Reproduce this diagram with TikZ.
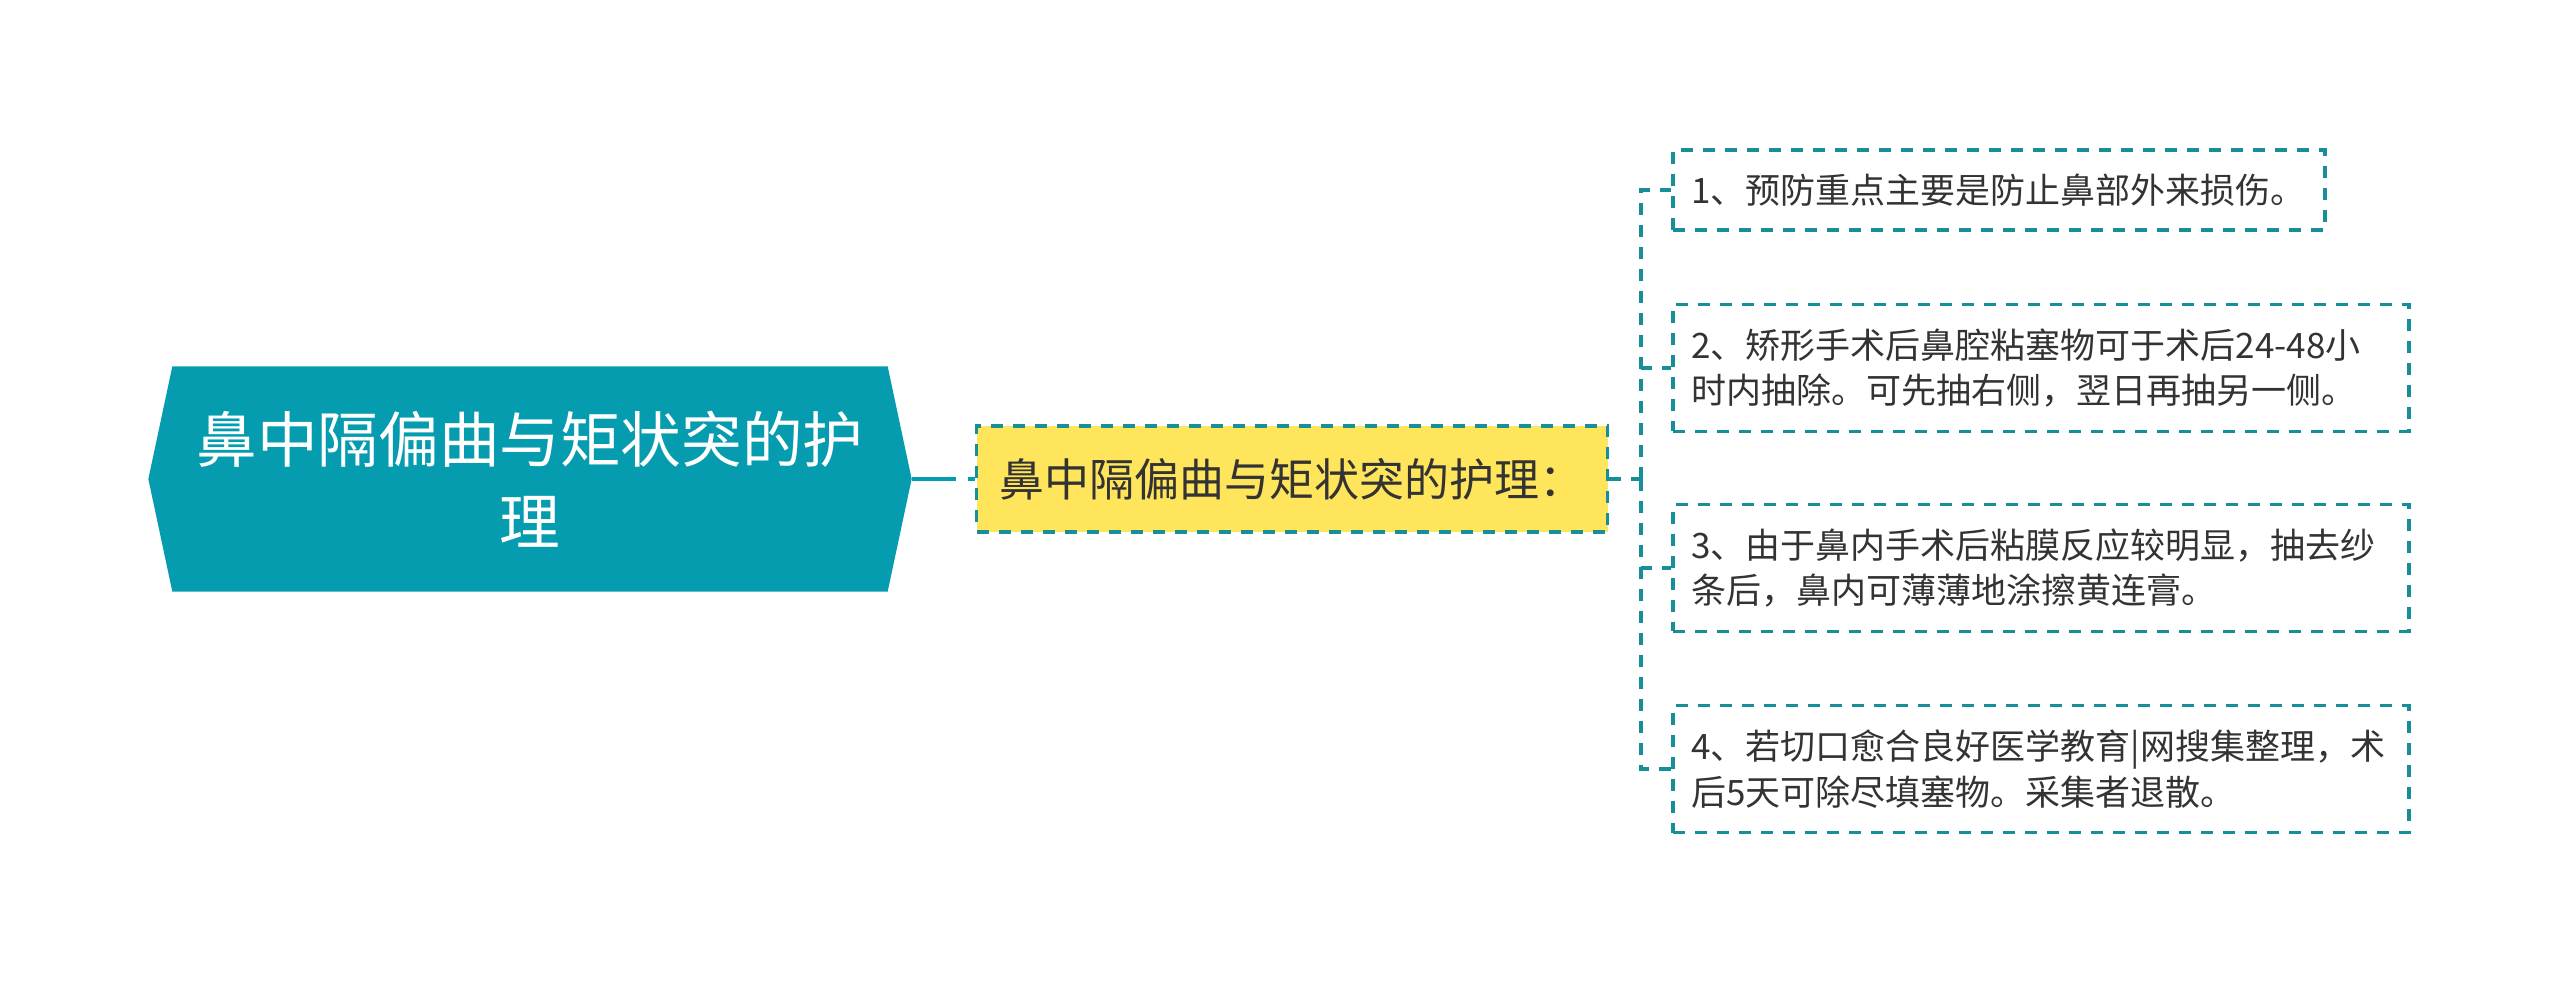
\documentclass[tikz,border=0pt]{standalone}
\usepackage{fontspec}
\setmainfont{Noto Sans CJK SC}
\usetikzlibrary{calc}
\usetikzlibrary{backgrounds}
\definecolor{hexteal}{RGB}{4,156,174}
\definecolor{dashteal}{RGB}{22,143,153}
\definecolor{noteyellow}{RGB}{255,229,92}
\definecolor{inkgray}{RGB}{51,51,51}

\begin{document}
\begin{tikzpicture}[x=0.3pt,y=-0.3pt,
  hexroot/.style={inner sep=0pt,minimum width=228.6pt,minimum height=67.2pt,align=center,text=white,font=\fontsize{18.2}{24.6}\selectfont},
  midbox/.style={draw=dashteal,line width=1pt,dash pattern=on 3.6pt off 3pt,fill=noteyellow,inner sep=0pt,minimum width=189.3pt,minimum height=31.8pt,text=inkgray,font=\fontsize{13.5}{16}\selectfont},
  leafbox/.style={draw=dashteal,line width=1pt,dash pattern=on 3.6pt off 3pt,inner xsep=5.5pt,inner ysep=0pt,text width=209.8pt,minimum height=38.1pt,align=left,text=inkgray,font=\fontsize{10.5}{13.6}\selectfont},
  link/.style={draw=hexteal,line width=1.2pt},
  leaflink/.style={draw=dashteal,line width=1pt,dash pattern=on 3.6pt off 3pt}]
\useasboundingbox (0,0) rectangle (2560,982);

\node[hexroot] (root) at (530,479) {鼻中隔偏曲与矩状突的护\\理}; % root topic
\begin{scope}[on background layer]
\fill[hexteal] ($(root.north west)+(24,0)$) -- ($(root.north east)+(-24,0)$) -- (root.east)
  -- ($(root.south east)+(-24,0)$) -- ($(root.south west)+(24,0)$) -- (root.west) -- cycle;
\end{scope}

\node[midbox] (mid) at (1292,479) {鼻中隔偏曲与矩状突的护理：};
\draw[link,dash pattern=on 13.2pt off 3.6pt on 2.7pt off 10pt] (root.east) -- (mid.west);

% the four points
\node[leafbox,text width=184.6pt,minimum height=24pt] (leaf1) at (1999,190) {1、预防重点主要是防止鼻部外来损伤。};
\node[leafbox] (leaf2) at (2041,368) {2、矫形手术后鼻腔粘塞物可于术后24-48小\\时内抽除。可先抽右侧，翌日再抽另一侧。};
\node[leafbox] (leaf3) at (2041,568) {3、由于鼻内手术后粘膜反应较明显，抽去纱\\条后，鼻内可薄薄地涂擦黄连膏。};
\node[leafbox] (leaf4) at (2041,769) {4、若切口愈合良好医学教育|网搜集整理，术\\后5天可除尽填塞物。采集者退散。};

\coordinate (fork) at (1641,479);
\draw[leaflink] (mid.east) -- (fork);
\foreach \n in {1,...,4}
  \draw[leaflink] (fork) |- (leaf\n.west);
\end{tikzpicture}
\end{document}
